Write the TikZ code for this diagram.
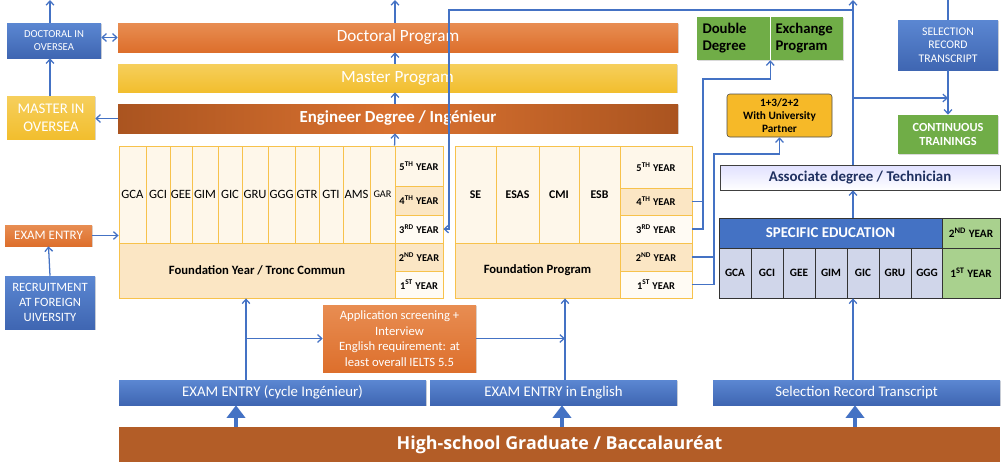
\documentclass[tikz,border=0pt]{standalone}
\usepackage{fontspec}
\setmainfont{Carlito}
\newfontfamily\hsfont{Open Sans}
\usetikzlibrary{arrows.meta,shadows}
\definecolor{blueA}{HTML}{5B87D2}
\definecolor{blueB}{HTML}{3F66B2}
\definecolor{lineblue}{HTML}{4472C4}
\definecolor{orA}{HTML}{E88D52}
\definecolor{orB}{HTML}{DD6F2C}
\definecolor{yeA}{HTML}{F6CF5C}
\definecolor{yeB}{HTML}{F2BE2E}
\definecolor{engA}{HTML}{AA5420}
\definecolor{engB}{HTML}{DA7230}
\definecolor{tborder}{HTML}{F7C24C}
\definecolor{cream}{HTML}{FEF7EA}
\definecolor{tan}{HTML}{FBE6C4}
\definecolor{paper}{HTML}{FFFBF4}
\definecolor{grn}{HTML}{70AD47}
\definecolor{lgrn}{HTML}{A9D18E}
\definecolor{lav}{HTML}{D0D6EA}
\definecolor{gold}{HTML}{F6B928}
\definecolor{hsbrown}{HTML}{B35D27}
\definecolor{navy}{HTML}{1F3060}
\newcommand{\yrlab}[2]{#1\textsuperscript{#2} YEAR}

\tikzset{
  >={Straight Barb[length=3pt,width=5.5pt]},
  sz/.style 2 args={minimum width=(#1)*0.025cm, minimum height=(#2)*0.025cm},
  boxbase/.style={inner sep=1pt, align=center, text=white},
  shad/.style={drop shadow={shadow xshift=0.8pt,shadow yshift=-0.8pt,opacity=0.3}},
  bluebox/.style={boxbase, shad, top color=blueA, bottom color=blueB},
  orbox/.style={boxbase, shad, top color=orA, bottom color=orB},
  yebox/.style={boxbase, shad, top color=yeA, bottom color=yeB},
  engbox/.style={boxbase, shad, left color=engA, right color=engA, middle color=engB},
  grnbox/.style={boxbase, shad, fill=grn},
  tcell/.style={draw=tborder, line width=0.6pt, fill=cream, inner sep=0pt, align=center,
    font=\fontsize{9}{10}\selectfont},
  ycell/.style={tcell, font=\bfseries\fontsize{7.4}{8}\selectfont},
  scell/.style={draw=black!80, line width=0.6pt, fill=lav, inner sep=0pt,
    font=\bfseries\fontsize{8}{9}\selectfont},
  conn/.style={draw=lineblue, line width=0.9pt, ->},
  plain/.style={draw=lineblue, line width=0.9pt},
  fat/.style={draw=lineblue, line width=3.5pt, -{Triangle[length=9pt,width=13pt]}},
}

\begin{document}
\begin{tikzpicture}[x=0.025cm, y=-0.025cm]
  \useasboundingbox (0,0) rectangle (1004,462);

  % Left column
  \node[bluebox, sz={94}{35}, font=\fontsize{7.6}{9}\selectfont] (doc) at (54,40.5) {DOCTORAL IN\\OVERSEA};
  \node[yebox, sz={88}{43}, font=\fontsize{10.5}{12.5}\selectfont] (mos) at (51,117.5) {MASTER IN\\OVERSEA};
  \node[orbox, sz={87}{21}, font=\fontsize{9.2}{10}\selectfont] (exament) at (48.5,235.5) {EXAM ENTRY};
  \node[bluebox, sz={90}{53}, font=\fontsize{9}{10.5}\selectfont] (recruit) at (50,302.5) {RECRUITMENT\\AT FOREIGN\\UIVERSITY};

  % Programs
  \node[orbox, sz={560}{29}, font=\fontsize{12.2}{13}\selectfont] (docprog) at (398,37.5) {Doctoral Program};
  \node[yebox, sz={559}{28}, font=\fontsize{12.2}{13}\selectfont] (masprog) at (397.5,78) {Master Program};
  \node[engbox, sz={560}{29}, font=\bfseries\fontsize{12}{13}\selectfont] (eng) at (398,118.5) {Engineer Degree / Ing\'enieur};

  % Engineer table
  \foreach \lab/\xa/\xb in {GCA/119/146, GCI/146/170, GEE/170/192, GIM/192/218, GIC/218/242,
      GRU/242/268, GGG/268/295, GTR/295/319, GTI/319/343, AMS/343/370}
    \node[tcell, sz={\xb-\xa}{97}] (l\lab) at ({(\xa+\xb)/2},194.5) {\lab};
  \node[tcell, sz={25}{97}, font=\fontsize{7.3}{8}\selectfont] (lGAR) at (382.5,194.5) {GAR};
  \node[tcell, fill=tan, sz={276}{55}, font=\bfseries\fontsize{9}{10}\selectfont] (ftc) at (257,270.5) {Foundation Year / Tronc Commun};
  \node[ycell, sz={48}{40}] (y5a) at (419,166) {\yrlab{5}{TH}};
  \node[ycell, fill=tan, sz={48}{29}] (y4a) at (419,200.5) {\yrlab{4}{TH}};
  \node[ycell, fill=paper, sz={48}{28}] (y3a) at (419,229) {\yrlab{3}{RD}};
  \node[ycell, fill=tan, sz={48}{28}] (y2a) at (419,257) {\yrlab{2}{ND}};
  \node[ycell, fill=paper, sz={48}{27}] (y1a) at (419,284.5) {\yrlab{1}{ST}};

  % English program table
  \foreach \lab/\xa/\xb in {SE/455/496, ESAS/496/539, CMI/539/579, ESB/579/620}
    \node[tcell, sz={\xb-\xa}{97}, font=\bfseries\fontsize{8.4}{9}\selectfont] (r\lab) at ({(\xa+\xb)/2},194.5) {\lab};
  \node[tcell, fill=tan, sz={165}{55}, font=\bfseries\fontsize{9}{10}\selectfont] (fp) at (537.5,270.5) {Foundation Program};
  \node[ycell, sz={72}{42}] (y5b) at (656,167) {\yrlab{5}{TH}};
  \node[ycell, fill=tan, sz={72}{27}] (y4b) at (656,201.5) {\yrlab{4}{TH}};
  \node[ycell, fill=paper, sz={72}{28}] (y3b) at (656,229) {\yrlab{3}{RD}};
  \node[ycell, fill=tan, sz={72}{28}] (y2b) at (656,257) {\yrlab{2}{ND}};
  \node[ycell, fill=paper, sz={72}{27}] (y1b) at (656,284.5) {\yrlab{1}{ST}};

  % Right column
  \node[grnbox, text=black, sz={73}{43}, align=left, text width=1.55cm,
    font=\bfseries\fontsize{10.5}{12}\selectfont] (dbl) at (733.5,38.5) {Double\\Degree};
  \node[grnbox, text=black, sz={73}{43}, align=left, text width=1.55cm,
    font=\bfseries\fontsize{10.5}{12}\selectfont] (exch) at (806.5,38.5) {Exchange\\Program};
  \draw[white, line width=0.8pt] (dbl.north east) -- (dbl.south east);
  \node[boxbase, text=black, fill=gold, draw=black!70, rounded corners=2pt, sz={105}{43},
    font=\bfseries\fontsize{8}{9}\selectfont] (uni) at (779.5,115.5) {1+3/2+2\\With University\\Partner};
  \node[bluebox, sz={100}{50}, font=\fontsize{8.3}{9.5}\selectfont] (strans) at (948,45) {SELECTION\\RECORD\\TRANSCRIPT};
  \node[grnbox, sz={100}{39}, font=\bfseries\fontsize{8.8}{10.5}\selectfont] (cont) at (948,134.5) {CONTINUOUS\\TRAININGS};
  \node[boxbase, shad, text=navy, top color=blue!12, bottom color=white, draw=black!75, sz={280}{25},
    font=\bfseries\fontsize{10.6}{12}\selectfont] (assoc) at (860,177.5) {Associate degree / Technician};

  % Specific education
  \node[boxbase, fill=lineblue, draw=black!80, line width=0.6pt, sz={223}{30},
    font=\bfseries\fontsize{10.6}{12}\selectfont] (spec) at (830.5,233) {SPECIFIC EDUCATION};
  \node[scell, fill=lgrn, sz={58}{30}] (y2c) at (971,233) {\yrlab{2}{ND}};
  \foreach \lab [count=\i from 0] in {GCA, GCI, GEE, GIM, GIC, GRU, GGG}
    \node[scell, sz={32}{50}] (s\lab) at ({735+32*\i},273) {\lab};
  \node[scell, fill=lgrn, sz={58}{50}] (y1c) at (971,273) {\yrlab{1}{ST}};

  % Entries
  \node[orbox, sz={153}{67}, font=\fontsize{9}{11}\selectfont] (app) at (399.5,338.5)
    {Application screening +\\Interview\\English requirement: at\\least overall IELTS 5.5};
  \node[bluebox, sz={307}{25}, font=\fontsize{10.5}{12}\selectfont] (ece) at (272.5,392.5) {EXAM ENTRY (cycle Ing\'enieur)};
  \node[bluebox, sz={247}{25}, font=\fontsize{10.5}{12}\selectfont] (eee) at (553.5,392.5) {EXAM ENTRY in English};
  \node[bluebox, sz={287}{25}, font=\fontsize{10.5}{12}\selectfont] (srt) at (856.5,392.5) {Selection Record Transcript};
  \node[boxbase, fill=hsbrown, sz={881}{35}, font=\hsfont\bfseries\fontsize{12.7}{14}\selectfont] (hs) at (559.5,444.5)
    {High-school Graduate / Baccalaur\'eat};

  % Coordinates
  \coordinate (upA) at (50,0);
  \coordinate (upB) at (395,0);
  \coordinate (upC) at (853,0);
  \coordinate (upD) at (948,0);
  \coordinate (jn) at (853,10);
  \coordinate (bend) at (449,10);
  \coordinate (jn2) at (853,98);
  \coordinate (k1) at (703,79);
  \coordinate (k2) at (714,154);
  \coordinate (v1) at (246,0);
  \coordinate (v2) at (565,0);

  % Edges
  \draw[conn] (doc.north -| upA) -- (upA);
  \draw[conn, <->] (docprog.west) -- (docprog.west -| doc.east);
  \draw[conn] (mos.north -| upA) -- (doc.south -| upA);
  \draw[conn] (eng.west) -- (eng.west -| mos.east);
  \draw[conn] (exament.east) -- (exament.east -| lGCA.west);
  \draw[conn] (recruit.north) -- (exament.south);
  \draw[conn] (y5a.north west) -- (eng.south -| upB);
  \draw[conn] (eng.north -| upB) -- (masprog.south -| upB);
  \draw[conn] (masprog.north -| upB) -- (docprog.south -| upB);
  \draw[conn] (docprog.north -| upB) -- (upB);

  \draw[conn] (assoc.north -| upC) -- (upC);
  \draw[conn] (jn) -- (bend) |- (y3a.east);
  \draw[conn] (jn2) -- (jn2 -| strans.south);
  \draw[plain] (strans.north) -- (upD);
  \draw[conn] (strans.south) -- (cont.north);
  \draw[conn] (spec.north -| upC) -- (assoc.south -| upC);
  \draw[conn] (srt.north -| upC) -- (sGIC.south -| upC);

  \draw[plain] (y4b.east) -- (y4b.east -| k1);
  \draw[conn] (y3b.east) -| (k1) -| (dbl.south east);
  \draw[plain] (y2b.east) -- (y2b.east -| k2);
  \draw[conn] (y1b.east) -| (k2) -| (uni.south);

  \draw[conn] (ece.north -| v1) -- (ftc.south -| v1);
  \draw[conn] (app.west -| v1) -- (app.west);
  \draw[conn] (eee.north -| v2) -- (fp.south -| v2);
  \draw[conn] (app.east) -- (app.east -| v2);

  \draw[fat] (hs.north -| 236,0) -- (ece.south -| 236,0);
  \draw[fat] (hs.north -| 562,0) -- (eee.south -| 562,0);
  \draw[fat] (hs.north -| 855,0) -- (srt.south -| 855,0);

\end{tikzpicture}
\end{document}
